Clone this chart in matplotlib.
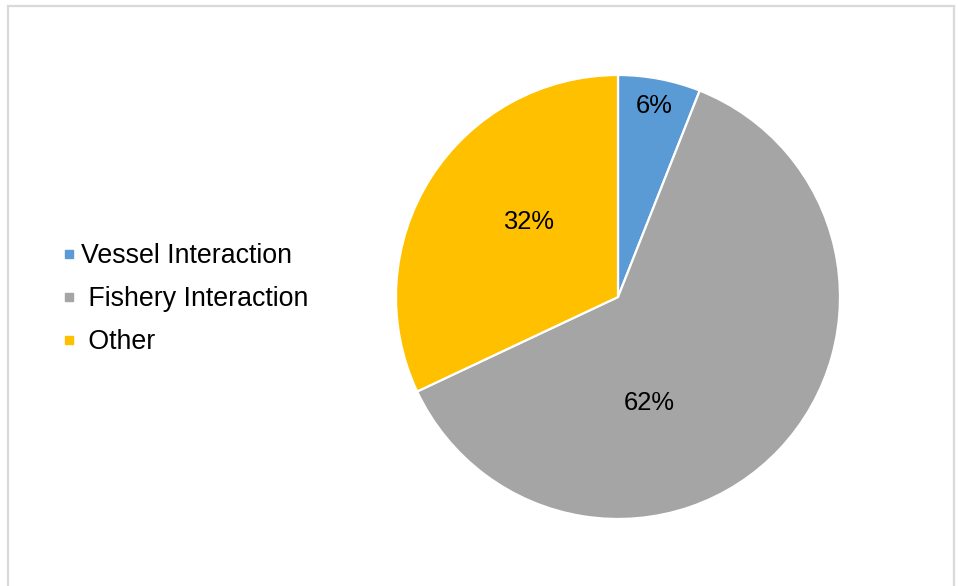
import matplotlib
matplotlib.use('Agg')
import matplotlib.pyplot as plt
from matplotlib.lines import Line2D
from matplotlib.patches import Rectangle

plt.rcParams['font.family'] = ['Liberation Sans', 'DejaVu Sans']

# Share of cases by cause
categories = ["Vessel Interaction", "Fishery Interaction", "Other"]
legend_labels = ["Vessel Interaction", " Fishery Interaction", " Other"]
shares = [6, 62, 32]
colors = ['#5B9BD5', '#A5A5A5', '#FFC000']

# where each percentage label sits inside the pie (data coords, radius 1)
label_pos = [(0.164, 0.860), (0.142, -0.477), (-0.405, 0.336)]

W, H = 958, 586
fig = plt.figure(figsize=(W / 100, H / 100), dpi=100)

# light grey frame around the chart area
fig.patches.append(Rectangle((8 / W, -0.05), (954 - 8) / W, (586 - 6) / H + 0.05,
                             transform=fig.transFigure, fill=False,
                             edgecolor='#D9D9D9', linewidth=1.6, clip_on=False))

cx, cy, r = 618, 297, 222
ax = fig.add_axes([(cx - r) / W, (H - cy - r) / H, 2 * r / W, 2 * r / H])
wedges, texts, autotexts = ax.pie(shares, colors=colors, startangle=90, counterclock=False,
                                  autopct='%1.0f%%',
                                  wedgeprops=dict(edgecolor='white', linewidth=1.6),
                                  textprops=dict(fontsize=18.4, color='black'))
for t, pos in zip(autotexts, label_pos):
    t.set_position(pos)
    t.set_ha('center')
    t.set_va('center')
ax.set_xlim(-1, 1)
ax.set_ylim(-1, 1)
ax.set_aspect('equal')

handles = [Line2D([], [], marker='s', linestyle='none', markersize=6,
                  markerfacecolor=c, markeredgecolor=c) for c in colors]
fig.legend(handles, legend_labels, loc='center left', bbox_to_anchor=(62 / W, (H - 299) / H),
           frameon=False, fontsize=19.3, handlelength=0.5, handletextpad=0.2,
           labelspacing=0.63, borderpad=0, borderaxespad=0)

fig.savefig('out.png', dpi=100, facecolor='white')
